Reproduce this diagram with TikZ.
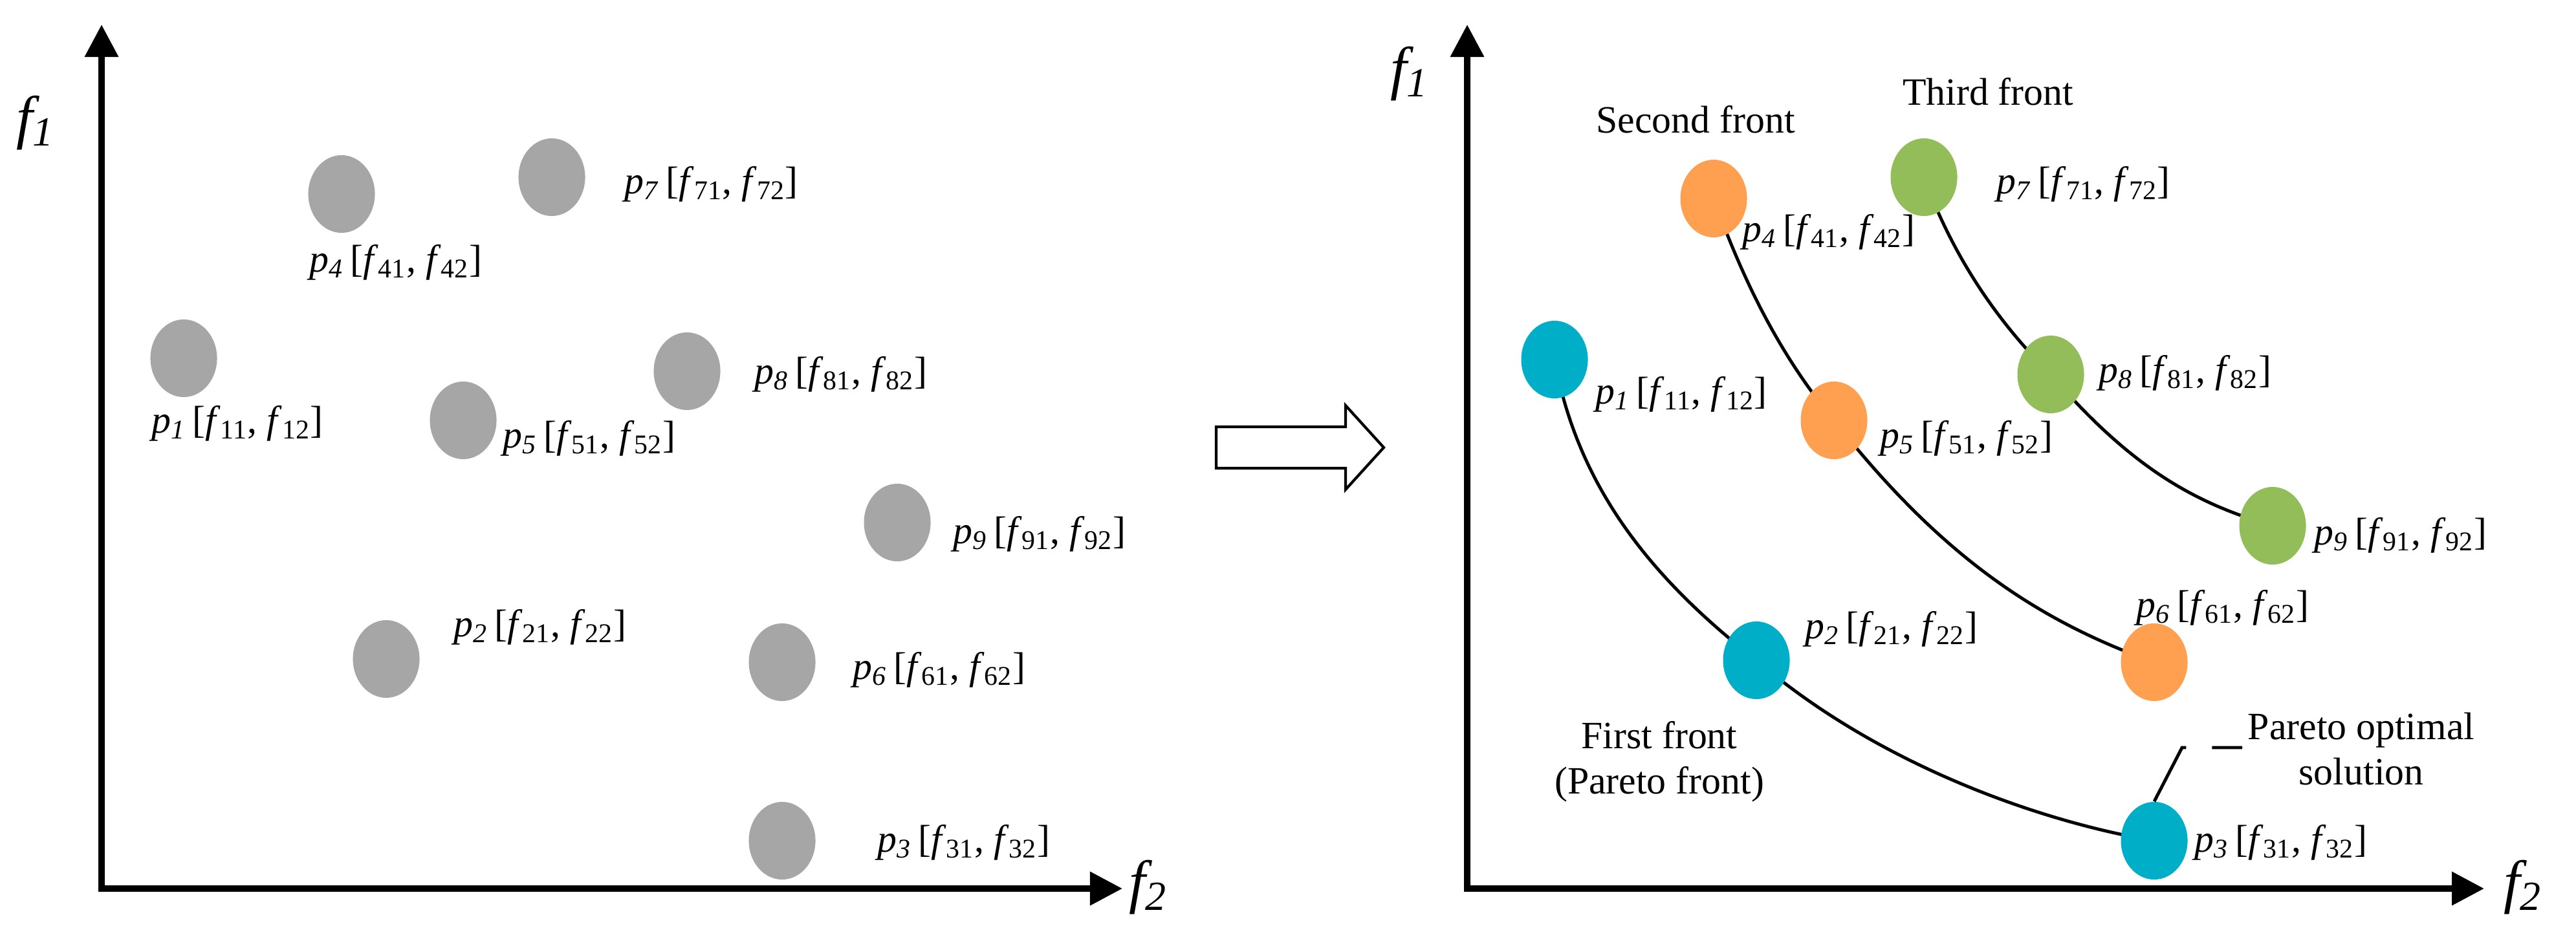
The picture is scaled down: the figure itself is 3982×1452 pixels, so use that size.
\documentclass[tikz,border=0pt]{standalone}
\usepackage{fontspec}
\setmainfont{Liberation Serif}
\usetikzlibrary{arrows.meta,shapes.geometric}
\definecolor{cgray}{HTML}{A6A6A6}
\definecolor{ccyan}{HTML}{00AEC7}
\definecolor{corange}{HTML}{FF9F50}
\definecolor{cgreen}{HTML}{92BD59}
\newcommand{\lab}[3]{\textit{p}\textsubscript{\textit{#1}}\,[\textit{f}\textsubscript{#2}, \textit{f}\textsubscript{#3}]}
\begin{document}
\begin{tikzpicture}[x=0.01cm,y=-0.01cm,
  pt/.style={ellipse,minimum width=1.03cm,minimum height=1.2cm,inner sep=0pt},
  axis/.style={line width=2.8pt,-{Triangle[length=5mm,width=5mm]}},
  lb/.style={font=\fontsize{17}{19}\selectfont,anchor=west,inner sep=0pt},
  tx/.style={font=\fontsize{17}{20}\selectfont,align=center,inner sep=0pt},
  ax/.style={font=\fontsize{26}{28}\selectfont\itshape,inner sep=0pt},
  crv/.style={line width=1.4pt}]
\useasboundingbox (0,0) rectangle (3982,1452);
% left panel
\coordinate (lo) at (157,1374);
\coordinate (ly) at (157,38);
\coordinate (lx) at (1735,1374);
\draw[axis] (lo) -- (ly);
\draw[axis] ([xshift=-1.4pt]lo) -- (lx);
\node[ax] (lf1) at (55,190) {f\textsubscript{\textit{1}}};
\node[ax] (lf2) at (1775,1372) {f\textsubscript{\textit{2}}};
\foreach \n/\x/\y/\lx/\ly in {4/528/300/478/406, 7/853/274/965/285, 1/284/554/234/655, 5/716/650/777/678, 8/1062/574/1166/579, 9/1387/808/1473/826, 2/597/1019/701/970, 6/1209/1024/1318/1036, 3/1209/1300/1356/1303}{
  \node[pt,fill=cgray] (g\n) at (\x,\y) {};
  \node[lb] (gl\n) at (\lx,\ly) {\lab{\n}{\n1}{\n2}};
}
% block arrow
\draw[line width=1.2pt,fill=white] (1880,660) -- (2080,660) -- (2080,627) -- (2139,692) -- (2080,757) -- (2080,724) -- (1880,724) -- cycle;
% right panel
\coordinate (ro) at (2268,1374);
\coordinate (ry) at (2268,38);
\coordinate (rx) at (3840,1374);
\draw[axis] (ro) -- (ry);
\draw[axis] ([xshift=-1.4pt]ro) -- (rx);
\node[ax] (rf1) at (2179,114) {f\textsubscript{\textit{1}}};
\node[ax] (rf2) at (3900,1372) {f\textsubscript{\textit{2}}};
\coordinate (r1) at (2403,556);
\coordinate (r2) at (2715,1021);
\coordinate (r3) at (3330,1300);
\coordinate (r4) at (2649,307);
\coordinate (r5) at (2835,650);
\coordinate (r6) at (3330,1024);
\coordinate (r7) at (2974,274);
\coordinate (r8) at (3170,579);
\coordinate (r9) at (3513,813);
\draw[crv] (r1) .. controls (2440,760) and (2560,900) .. (r2) .. controls (2900,1180) and (3150,1270) .. (r3);
\draw[crv] (r4) .. controls (2700,450) and (2760,560) .. (r5) .. controls (3000,860) and (3150,960) .. (r6);
\draw[crv] (r7) .. controls (3020,400) and (3090,500) .. (r8) .. controls (3300,730) and (3400,780) .. (r9);
\foreach \n/\c/\lx/\ly in {1/ccyan/2466/610, 2/ccyan/2790/973, 3/ccyan/3392/1303, 4/corange/2693/359, 5/corange/2906/678, 6/corange/3302/940, 7/cgreen/3086/285, 8/cgreen/3244/577, 9/cgreen/3577/828}{
  \node[pt,fill=\c] (n\n) at (r\n) {};
  \node[lb] (nl\n) at (\lx,\ly) {\lab{\n}{\n1}{\n2}};
}
\node[tx] (sf) at (2621,185) {Second front};
\node[tx] (tf) at (3073,142) {Third front};
\node[tx] (ff) at (2565,1178) {First front\\(Pareto front)};
\node[tx] (po) at (3650,1158) {Pareto optimal\\solution};
\coordinate (d1) at (3373,1156);
\coordinate (d2) at (3466,1156);
\draw[line width=1.4pt,dash pattern=on 10mm off 4mm] (n3.north) -- (d1) -- (d2);
\end{tikzpicture}
\end{document}
